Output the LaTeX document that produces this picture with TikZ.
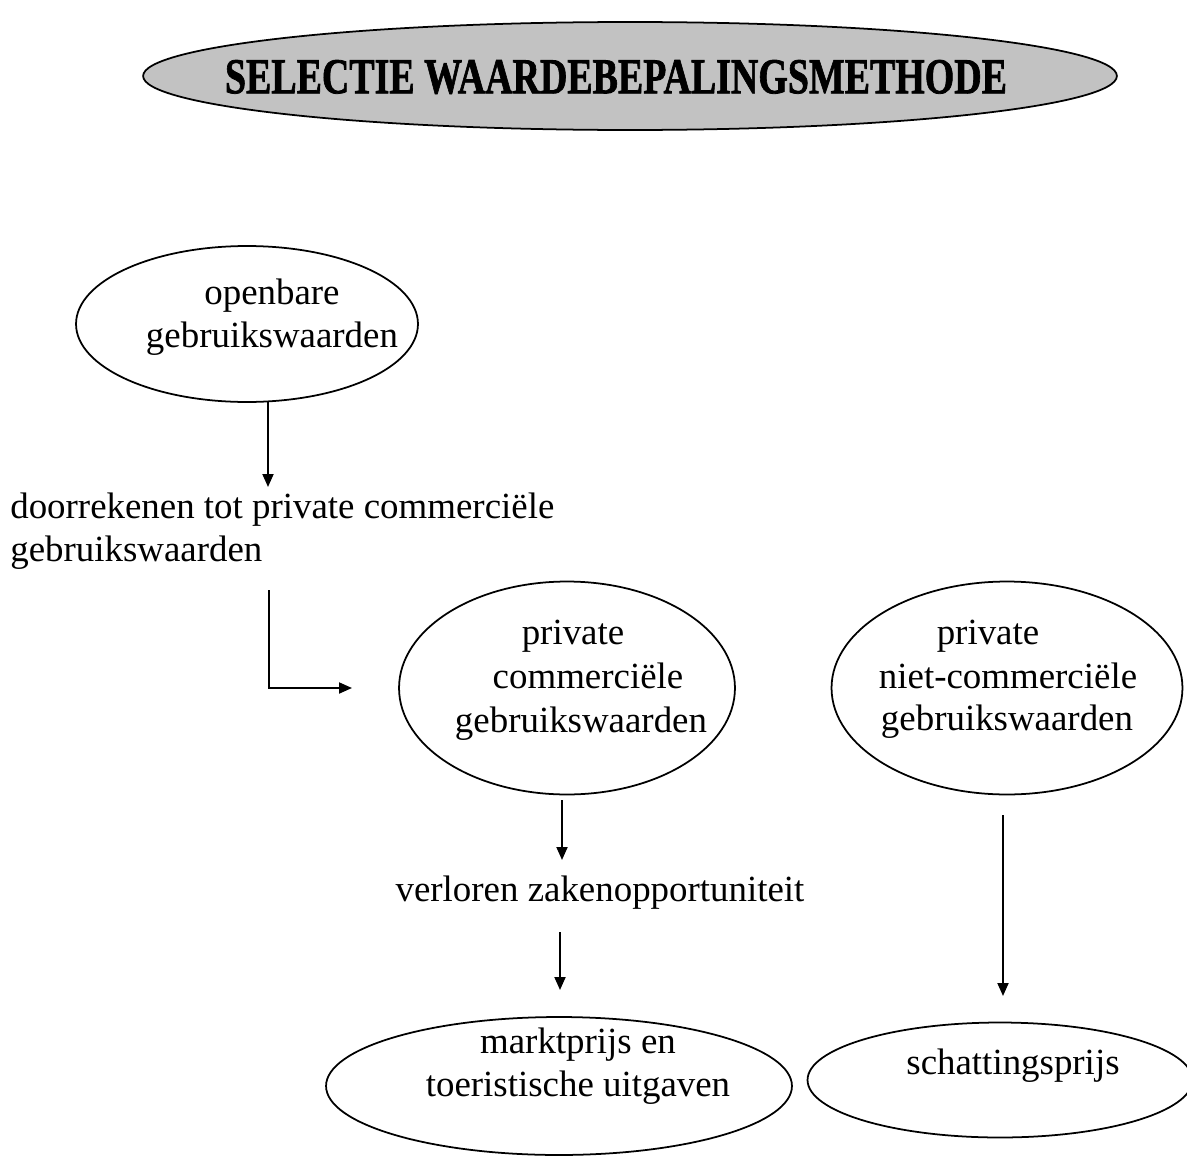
\documentclass[tikz,border=0pt]{standalone}
\usepackage{fontspec}
\setmainfont{Liberation Serif}
\newfontfamily\heavyserif[FakeBold=1.6]{Liberation Serif Bold}
\usetikzlibrary{shapes.geometric,arrows.meta}
\begin{document}
\begin{tikzpicture}[x=0.02cm,y=-0.02cm,
  oval/.style={draw,ellipse,line width=1pt,inner sep=0pt},
  lbl/.style={font=\fontsize{21}{24.5}\selectfont,inner sep=0pt},
  flow/.style={line width=1.1pt,-{Triangle[length=2.6mm,width=2.2mm]}},
  titlefont/.style={font=\fontsize{26}{30}\heavyserif,inner sep=0pt,xscale=0.83,yscale=1.1}
]
\useasboundingbox (0,0) rectangle (1187,1156);
\clip (0,0) rectangle (1187,1156);

% title
\node[oval,fill=gray!48,minimum width=19.48cm,minimum height=2.16cm] (title) at (630,76) {};
\node[titlefont] (titletext) at (616,77) {SELECTIE WAARDEBEPALINGSMETHODE};

% openbare gebruikswaarden
\node[oval,minimum width=6.84cm,minimum height=3.12cm] (open) at (247,324) {};
\node[lbl,align=center] (opentext) at (272,317) {openbare\\gebruikswaarden};

\coordinate (a1s) at (268,401);
\coordinate (a1e) at (268,487);
\draw[flow] (a1s) -- (a1e);

\node[lbl,align=left,anchor=west] (door) at (10,531) {doorrekenen tot private commerciële\\gebruikswaarden};

\coordinate (a2s) at (269,590);
\coordinate (a2e) at (352,688);
\draw[flow] (a2s) |- (a2e);

% private commerciele
\node[oval,minimum width=6.72cm,minimum height=4.26cm] (pc) at (567,688) {};
\node[lbl] (pc1) at (573,636) {private};
\node[lbl] (pc2) at (588,676) {commerciële};
\node[lbl] (pc3) at (581,724) {gebruikswaarden};

% private niet-commerciele
\node[oval,minimum width=7.02cm,minimum height=4.26cm] (pn) at (1007,688) {};
\node[lbl] (pn1) at (988,636) {private};
\node[lbl] (pn2) at (1008,676) {niet-commerciële};
\node[lbl] (pn3) at (1007,722) {gebruikswaarden};

\coordinate (a3s) at (562,800);
\coordinate (a3e) at (562,860);
\draw[flow] (a3s) -- (a3e);

\node[lbl] (verl) at (600,893) {verloren zakenopportuniteit};

\coordinate (a4s) at (560,932);
\coordinate (a4e) at (560,990);
\draw[flow] (a4s) -- (a4e);

\coordinate (a5s) at (1003,815);
\coordinate (a5e) at (1003,996);
\draw[flow] (a5s) -- (a5e);

% bottom ovals
\node[oval,minimum width=9.32cm,minimum height=2.76cm] (mk) at (559,1086) {};
\node[lbl,align=center] (mktext) at (578,1066) {marktprijs en\\toeristische uitgaven};

\node[oval,minimum width=7.7cm,minimum height=2.3cm] (sch) at (1000,1080) {};
\node[lbl] (schtext) at (1013,1066) {schattingsprijs};
\end{tikzpicture}
\end{document}
